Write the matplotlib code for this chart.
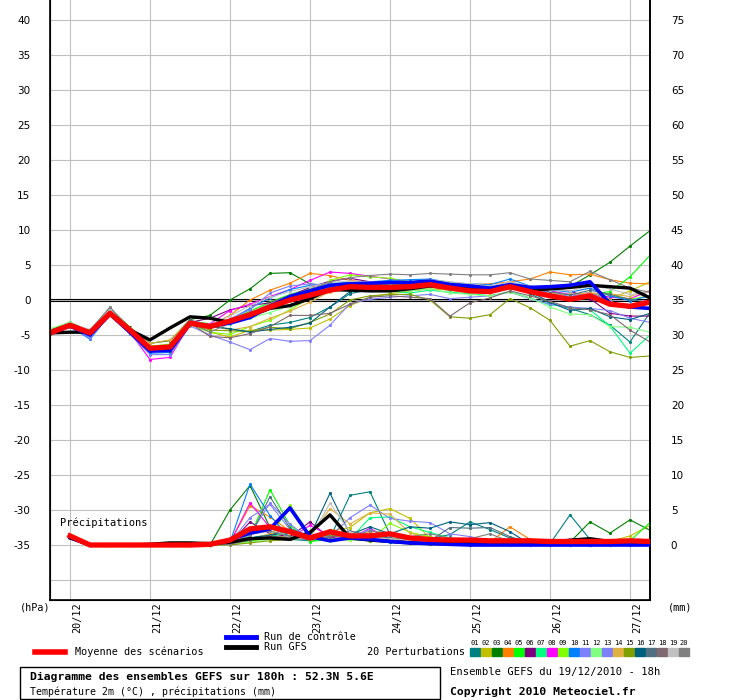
import numpy as np
import matplotlib
matplotlib.use("Agg")
import matplotlib.pyplot as plt

# time axis: 19/12 18h run, every 6h up to 180h
hours = np.arange(0, 181, 6)
precip_hours = hours[1:]

day_labels = ["20/12", "21/12", "22/12", "23/12", "24/12", "25/12", "26/12", "27/12"]
day_hours = [6, 30, 54, 78, 102, 126, 150, 174]

member_colors = ["#008080", "#c0c000", "#008000", "#ff8000", "#00ff00", "#800080", "#00ff80",
                 "#ff00ff", "#80ff00", "#0080ff", "#8080ff", "#80ff80", "#7f7ff8", "#e0b040",
                 "#80a000", "#006080", "#507080", "#806870", "#c0c0c0", "#808080"]

# 2m temperature (°C), 20 perturbations
t_members = [
    [-4.4, -3.5, -5.0, -1.8, -4.6, -7.4, -7.0, -2.9, -3.6, -4.2, -4.5, -3.6, -3.2, -2.5, -1.0, 0.9, 1.5, 1.8, 2.0, 2.4, 1.9, 1.3, 1.2, 2.2, 0.9, -0.5, -1.2, -2.1, -3.6, -6.0, -1.8],
    [-4.8, -3.7, -4.6, -1.6, -4.2, -6.8, -6.4, -3.4, -4.6, -5.3, -4.3, -4.3, -4.2, -4.0, -2.7, -0.8, 0.4, 0.9, 1.3, 1.6, 1.4, 1.1, 1.0, 1.6, 1.2, 0.7, 0.4, 1.0, 0.2, 1.3, 2.6],
    [-4.3, -3.2, -4.4, -1.2, -3.9, -6.2, -5.8, -2.8, -2.2, 0.0, 1.6, 3.8, 3.9, 2.3, 2.0, 2.1, 2.3, 2.2, 2.2, 2.6, 2.1, 1.8, 1.6, 2.1, 1.8, 1.8, 1.9, 3.6, 5.4, 7.7, 9.9],
    [-4.7, -3.6, -4.8, -1.9, -4.3, -6.9, -6.6, -3.1, -3.6, -2.2, 0.0, 1.4, 2.4, 3.8, 3.5, 2.8, 2.5, 2.4, 2.4, 2.7, 2.4, 2.2, 2.3, 2.6, 3.0, 4.0, 3.6, 3.7, 2.9, 2.4, 2.3],
    [-4.6, -3.4, -4.6, -1.7, -4.2, -6.7, -6.5, -3.0, -3.4, -2.9, -1.6, -0.3, 0.8, 1.6, 2.2, 2.4, 2.3, 2.2, 2.1, 2.5, 1.8, 1.4, 1.2, 2.0, 1.2, 0.6, 0.0, 0.8, 1.2, 3.3, 6.4],
    [-4.5, -3.7, -4.5, -1.9, -4.4, -7.0, -6.9, -3.2, -2.6, -1.4, -0.8, -0.4, 0.6, 1.8, 2.7, 3.1, 2.6, 2.4, 2.2, 2.3, 2.0, 1.6, 1.5, 2.1, 1.8, 1.6, 1.3, 0.2, -1.9, -2.3, -2.3],
    [-4.7, -3.5, -4.7, -1.8, -4.5, -7.1, -6.8, -3.3, -4.0, -3.4, -2.2, -1.1, -0.1, 0.9, 1.6, 1.8, 1.6, 1.3, 1.0, 1.4, 1.1, 0.9, 0.6, 1.2, 0.3, -0.7, -1.0, -1.4, -3.7, -7.6, -5.0],
    [-4.3, -3.6, -4.9, -2.0, -4.6, -8.5, -8.2, -3.4, -3.4, -1.5, -0.6, 0.5, 1.5, 2.8, 4.0, 3.8, 3.4, 3.0, 2.6, 2.8, 2.1, 1.9, 1.8, 2.1, 1.6, 1.3, 0.8, 1.0, 0.4, 0.2, 1.3],
    [-4.8, -3.3, -4.5, -1.5, -4.0, -6.6, -6.3, -3.5, -4.6, -4.9, -3.8, -2.9, -1.4, 0.3, 2.8, 3.6, 3.3, 3.1, 2.6, 2.8, 2.5, 2.2, 1.9, 2.3, 1.5, 0.7, 0.3, 0.9, 0.7, 0.1, 0.6],
    [-4.9, -3.8, -5.6, -2.1, -4.8, -7.6, -7.5, -3.2, -3.9, -2.8, -1.2, 0.3, 1.5, 2.1, 2.4, 2.5, 2.6, 2.8, 2.9, 3.0, 2.5, 2.3, 2.2, 3.0, 2.0, 1.5, 1.1, 1.7, 0.6, -0.1, 0.6],
    [-4.8, -3.9, -5.4, -2.2, -4.9, -7.8, -7.8, -3.7, -5.0, -6.0, -7.1, -5.5, -5.9, -5.8, -3.6, -0.5, 0.1, 0.4, 0.6, 0.8, 0.2, 0.4, 0.6, 1.1, 0.2, -0.6, -1.0, -1.2, -1.5, -2.6, -3.2],
    [-4.1, -3.2, -4.5, -1.6, -4.1, -6.6, -6.7, -3.3, -3.7, -3.3, -2.6, -1.8, -0.8, 0.4, 1.3, 1.6, 1.5, 1.4, 1.3, 1.6, 1.0, 0.8, 0.6, 1.1, 0.3, -1.0, -2.0, -2.1, -3.8, -3.9, -4.6],
    [-4.6, -3.7, -4.8, -2.0, -4.3, -7.2, -7.1, -3.3, -3.9, -2.7, -1.4, 1.0, 2.0, 2.3, 2.1, 2.0, 2.2, 2.1, 2.0, 2.4, 1.7, 1.5, 1.4, 2.4, 1.5, 1.1, 0.5, 1.1, -0.2, -0.9, 0.0],
    [-4.5, -3.5, -4.7, -1.9, -4.2, -6.2, -5.7, -3.0, -3.6, -4.3, -3.8, -2.6, -1.6, -0.3, 1.2, 1.9, 2.2, 2.3, 2.4, 2.6, 2.2, 1.7, 1.6, 2.4, 1.4, 0.9, 0.8, 1.0, 0.9, 0.5, 1.4],
    [-4.9, -3.8, -4.7, -1.9, -4.4, -7.1, -6.9, -3.5, -4.3, -4.4, -4.5, -3.9, -4.1, -3.2, -2.0, 0.0, 0.6, 0.8, 0.8, 0.0, -2.4, -2.6, -2.1, 0.2, -1.1, -2.9, -6.6, -5.8, -7.4, -8.2, -8.0],
    [-4.6, -3.6, -4.8, -2.1, -4.6, -7.3, -7.3, -3.1, -3.8, -4.1, -4.6, -4.2, -3.9, -3.3, -1.0, 1.2, 1.6, 1.8, 1.9, 2.3, 1.9, 1.5, 1.3, 1.8, 1.2, -0.3, -1.5, -1.2, -2.4, -2.8, -1.9],
    [-4.5, -3.5, -4.6, -2.0, -4.4, -7.0, -6.6, -2.9, -3.7, -2.9, -1.8, -0.9, 0.1, 1.0, 1.8, 2.1, 2.2, 2.3, 2.3, 2.4, 2.0, 1.7, 1.5, 2.1, 1.6, 1.2, 0.7, 1.4, 0.8, 0.1, -0.4],
    [-4.4, -3.7, -4.6, -1.9, -4.3, -6.9, -6.9, -3.3, -5.2, -5.4, -4.8, -3.8, -2.2, -2.2, -1.9, -0.6, 0.4, 0.6, 0.4, 0.2, -2.3, -0.4, 0.3, 1.3, 0.6, -0.2, -1.1, -1.4, -2.1, -4.3, -6.0],
    [-4.6, -3.4, -4.2, -1.3, -4.0, -6.8, -6.6, -3.1, -3.5, -2.3, -0.8, 0.4, 1.2, 1.9, 2.5, 2.7, 2.6, 2.5, 2.5, 2.9, 2.6, 2.3, 2.0, 2.6, 2.0, 1.5, 1.3, 2.0, 1.6, 0.8, 1.1],
    [-4.5, -3.9, -4.3, -1.0, -4.3, -6.8, -6.8, -3.3, -4.6, -3.3, -1.9, -0.5, 0.7, 1.5, 2.6, 3.2, 3.5, 3.7, 3.6, 3.8, 3.7, 3.6, 3.6, 3.9, 3.0, 2.8, 2.6, 4.1, 2.9, 1.7, 1.1],
]
t_control = [-4.8, -3.7, -5.0, -2.0, -4.6, -7.3, -7.2, -3.4, -3.7, -3.3, -2.5, -0.9, 0.5, 1.3, 2.1, 2.3, 2.4, 2.5, 2.5, 2.7, 2.2, 2.0, 1.7, 2.2, 1.8, 1.9, 2.1, 2.6, -0.5, -1.0, -1.2]
t_gfs = [-4.7, -4.6, -4.6, -1.9, -4.3, -5.7, -4.0, -2.4, -2.6, -3.2, -2.3, -1.2, -0.8, 0.2, 1.5, 1.4, 1.3, 1.3, 1.6, 2.0, 1.7, 1.6, 1.4, 1.8, 1.4, 1.6, 1.8, 2.1, 1.9, 1.7, 0.3]
t_mean = [-4.7, -3.6, -4.7, -1.9, -4.3, -6.9, -6.7, -3.3, -3.8, -3.0, -2.1, -1.0, 0.0, 0.7, 1.4, 1.9, 1.8, 1.8, 1.9, 2.2, 1.7, 1.3, 1.2, 1.9, 1.2, 0.6, 0.1, 0.6, -0.6, -0.9, -0.3]

# 6h precipitation (mm), from +6h
p_members = [
    [1.2, 0, 0, 0, 0, 0, 0, 0, 0.3, 1.0, 1.5, 0.8, 0.6, 1.0, 7.1, 7.6, 1.5, 1.2, 0.9, 1.5, 3.3, 2.2, 1.0, 0.5, 0.2, 4.3, 0.8, 0.2, 0.4, 0.5],
    [1.0, 0, 0, 0, 0, 0, 0, 0, 0.2, 0.6, 1.0, 1.4, 1.0, 2.0, 2.5, 4.6, 5.2, 3.8, 1.0, 0.6, 0.4, 0.3, 0.2, 0.4, 0.1, 0.1, 0.2, 0.5, 1.3, 2.8],
    [1.1, 0, 0, 0, 0, 0, 0, 0, 5.0, 8.5, 2.5, 1.2, 1.0, 2.1, 1.4, 0.7, 0.4, 0.3, 0.2, 0.1, 0.2, 0.1, 0.2, 0.1, 0.2, 0.4, 3.3, 1.7, 3.6, 2.1],
    [1.2, 0, 0, 0, 0, 0, 0, 0, 0.4, 5.6, 4.0, 2.0, 0.6, 1.5, 0.8, 1.8, 1.0, 0.5, 0.3, 0.2, 0.2, 0.4, 2.6, 0.8, 0.1, 0.0, 0.1, 0.0, 0.1, 0.2],
    [1.1, 0, 0, 0, 0, 0, 0, 0, 0.3, 1.2, 7.9, 2.8, 0.5, 0.8, 1.0, 0.6, 0.4, 0.3, 0.2, 0.1, 0.0, 0.1, 0.0, 0.1, 0.0, 0.0, 0.1, 0.0, 0.6, 3.2],
    [1.2, 0, 0, 0, 0, 0, 0, 0, 0.2, 3.3, 1.6, 1.2, 3.3, 1.0, 1.5, 1.4, 0.6, 0.3, 0.2, 0.1, 0.0, 0.1, 0.0, 0.0, 0.0, 0.1, 0.3, 0.2, 0.3, 0.1],
    [1.0, 0, 0, 0, 0, 0, 0, 0, 0.1, 0.6, 1.2, 1.8, 0.9, 1.5, 0.8, 3.9, 4.0, 2.6, 1.8, 1.0, 0.4, 0.2, 0.1, 0.0, 0.1, 0.0, 0.0, 0.0, 0.1, 0.2],
    [1.3, 0, 0, 0, 0, 0, 0, 0, 0.3, 6.0, 2.5, 1.0, 2.8, 1.3, 0.9, 2.4, 0.8, 0.4, 0.2, 0.1, 0.0, 0.1, 0.0, 0.0, 0.0, 0.1, 0.0, 0.0, 0.1, 0.0],
    [1.1, 0, 0, 0, 0, 0, 0, 0, 0.1, 0.5, 1.0, 5.7, 1.5, 0.9, 0.7, 0.8, 3.1, 1.8, 1.2, 0.5, 0.2, 0.1, 0.0, 0.1, 0.0, 0.0, 0.1, 0.0, 0.3, 0.2],
    [1.2, 0, 0, 0, 0, 0, 0, 0, 0.4, 8.7, 4.2, 1.0, 0.8, 1.2, 1.6, 1.0, 0.5, 0.3, 0.2, 0.1, 0.1, 0.5, 0.2, 0.1, 0.1, 0.0, 0.0, 0.0, 0.0, 0.1],
    [1.0, 0, 0, 0, 0, 0, 0, 0, 0.2, 1.5, 6.0, 3.0, 0.8, 1.2, 3.9, 5.7, 3.8, 3.4, 3.2, 1.6, 1.2, 0.6, 0.3, 0.1, 0.0, 0.0, 0.0, 0.0, 0.1, 0.0],
    [1.1, 0, 0, 0, 0, 0, 0, 0, 0.1, 0.4, 0.8, 1.2, 1.0, 0.6, 0.9, 1.3, 0.9, 0.7, 0.5, 0.4, 0.3, 0.2, 0.1, 0.0, 0.0, 0.0, 0.1, 0.0, 0.1, 0.3],
    [1.2, 0, 0, 0, 0, 0, 0, 0, 0.3, 3.9, 5.8, 2.2, 1.4, 1.9, 1.2, 2.2, 1.0, 0.8, 0.6, 0.3, 0.2, 0.2, 0.1, 0.0, 0.1, 0.0, 0.0, 0.1, 0.0, 0.1],
    [1.1, 0, 0, 0, 0, 0, 0, 0, 0.2, 0.8, 1.6, 2.0, 1.2, 5.2, 3.0, 4.6, 4.4, 1.7, 1.0, 0.5, 0.3, 0.2, 0.1, 0.1, 0.0, 0.0, 0.1, 0.0, 0.2, 0.1],
    [1.0, 0, 0, 0, 0, 0, 0, 0, 0.0, 0.3, 0.6, 0.8, 1.1, 1.4, 1.0, 0.6, 0.8, 0.4, 0.2, 0.1, 0.0, 0.1, 0.0, 0.0, 0.0, 0.0, 0.0, 0.0, 0.0, 0.0],
    [1.3, 0, 0, 0, 0, 0, 0, 0, 0.2, 1.0, 1.4, 2.2, 1.3, 7.4, 1.5, 2.6, 1.6, 2.6, 2.4, 3.3, 2.9, 3.2, 1.9, 0.1, 0.0, 0.0, 0.0, 0.1, 0.0, 0.0],
    [1.2, 0, 0, 0, 0, 0, 0, 0, 0.2, 1.2, 6.9, 2.4, 1.0, 1.1, 2.0, 1.4, 1.0, 0.8, 0.6, 2.5, 2.4, 2.5, 1.2, 0.3, 0.1, 0.0, 0.1, 0.0, 0.2, 0.0],
    [1.1, 0, 0, 0, 0, 0, 0, 0, 0.1, 0.7, 1.3, 1.0, 0.8, 1.1, 1.7, 0.9, 0.6, 0.4, 0.3, 0.5, 0.6, 0.4, 0.5, 0.2, 0.0, 0.4, 0.1, 0.2, 0.1, 0.1],
    [1.2, 0, 0, 0, 0, 0, 0, 0, 0.3, 1.8, 2.5, 1.0, 0.9, 6.0, 1.8, 1.0, 0.9, 0.7, 0.4, 0.2, 0.2, 0.1, 0.0, 0.1, 0.0, 0.0, 0.1, 0.0, 0.0, 0.2],
    [1.3, 0, 0, 0, 0, 0, 0, 0, 0.2, 1.5, 2.0, 1.2, 0.8, 1.6, 1.1, 2.0, 1.7, 1.2, 1.6, 1.0, 0.9, 1.6, 0.5, 0.2, 0.0, 0.1, 0.2, 0.1, 0.0, 0.1],
]
p_control = [1.1, 0, 0, 0, 0, 0, 0, 0, 0.8, 1.7, 2.3, 5.3, 1.2, 0.6, 1.0, 0.8, 0.5, 0.3, 0.2, 0.1, 0.0, 0.0, 0.0, 0.0, 0.0, 0.0, 0.0, 0.0, 0.0, 0.0]
p_gfs = [1.0, 0, 0, 0, 0.1, 0.3, 0.3, 0.2, 0.4, 0.9, 1.0, 0.8, 1.8, 4.3, 1.0, 0.7, 0.5, 0.3, 0.2, 0.2, 0.2, 0.1, 0.1, 0.1, 0.3, 0.7, 0.9, 0.5, 0.3, 0.1]
p_mean = [1.3, 0, 0, 0, 0, 0, 0, 0.1, 0.7, 2.3, 2.6, 1.9, 1.0, 1.9, 1.3, 1.3, 1.6, 1.0, 0.8, 0.7, 0.7, 0.6, 0.6, 0.6, 0.5, 0.5, 0.5, 0.5, 0.6, 0.5]

W, H = 740, 700
mono = "DejaVu Sans Mono"


def fx(x):
    return x / W


def fy(y):
    return 1 - y / H


fig = plt.figure(figsize=(7.4, 7.0), dpi=100)
ax = fig.add_axes([fx(50), fy(600), fx(600), 600 / H])
ylim = (-300 / 7, 300 / 7)
ax.set_xlim(0, 180)
ax.set_ylim(*ylim)

for y in range(-40, 41, 5):
    ax.axhline(y, color="#c0c0c0", lw=0.8, zorder=0)
for h in day_hours:
    ax.axvline(h, color="#c0c0c0", lw=0.8, zorder=0)
ax.axhline(0.17, color="black", lw=0.8, zorder=1)
ax.axhline(-0.17, color="black", lw=0.8, zorder=1)

ax.set_yticks(range(-35, 41, 5))
ax.set_yticklabels([str(v) for v in range(-35, 41, 5)], fontsize=7.5)
ax.tick_params(axis="y", length=0, pad=14)
ax.set_xticks(day_hours)
ax.set_xticklabels([])
ax.tick_params(axis="x", length=0)
ax.spines["top"].set_visible(False)
for s in ["left", "right", "bottom"]:
    ax.spines[s].set_linewidth(1.2)

ax2 = ax.twinx()
ax2.set_ylim(ylim[0] + 35, ylim[1] + 35)
ax2.set_yticks(range(0, 76, 5))
ax2.set_yticklabels([str(v) for v in range(0, 76, 5)], fontsize=7.5)
ax2.tick_params(axis="y", length=0, pad=15)
ax2.spines["top"].set_visible(False)
ax2.spines["right"].set_linewidth(1.2)

for vals, col in zip(t_members, member_colors):
    ax.plot(hours, vals, color=col, lw=0.8, marker=".", ms=2.5, zorder=2)
ax.plot(hours, t_gfs, color="black", lw=2.4, zorder=3)
ax.plot(hours, t_control, color="#0000ff", lw=2.6, zorder=3)
ax.plot(hours, t_mean, color="#ff0000", lw=3.8, zorder=4)

for vals, col in zip(p_members, member_colors):
    ax2.plot(precip_hours, vals, color=col, lw=0.8, marker=".", ms=2.5, zorder=2)
ax2.plot(precip_hours, p_gfs, color="black", lw=2.4, zorder=3)
ax2.plot(precip_hours, p_control, color="#0000ff", lw=2.6, zorder=3)
ax2.plot(precip_hours, p_mean, color="#ff0000", lw=3.8, zorder=4)

ax.text(fx(60), fy(523), "Précipitations", transform=fig.transFigure, fontsize=7.5,
        family=mono, va="center", ha="left", zorder=5)

# date labels under the axis
for h, lab in zip(day_hours, day_labels):
    x_px = 50 + h * 600 / 180 + 7
    fig.text(fx(x_px), fy(602), lab, rotation=90, family=mono, fontsize=7.3,
             ha="center", va="top")
fig.text(fx(20), fy(607), "(hPa)", family=mono, fontsize=7.3, va="center")
fig.text(fx(668), fy(607), "(mm)", family=mono, fontsize=7.3, va="center")

# legend
fig.add_artist(plt.Line2D([fx(35), fx(65)], [fy(652), fy(652)], color="#ff0000", lw=4))
fig.text(fx(75), fy(652), "Moyenne des scénarios", family=mono, fontsize=7.3, va="center")
fig.add_artist(plt.Line2D([fx(226), fx(256)], [fy(637), fy(637)], color="#0000ff", lw=3.5))
fig.text(fx(264), fy(637), "Run de contrôle", family=mono, fontsize=7.3, va="center")
fig.add_artist(plt.Line2D([fx(226), fx(256)], [fy(647), fy(647)], color="black", lw=3.5))
fig.text(fx(264), fy(647), "Run GFS", family=mono, fontsize=7.3, va="center")
fig.text(fx(465), fy(652), "20 Perturbations", family=mono, fontsize=7.3, va="center", ha="right")
for k, col in enumerate(member_colors):
    x0 = 470 + 11 * k
    fig.add_artist(plt.Rectangle((fx(x0), fy(656)), 10 / W, 8 / H, color=col,
                                 transform=fig.transFigure))
    fig.text(fx(x0 + 5), fy(643), "%02d" % (k + 1), family=mono, fontsize=5,
             ha="center", va="center")

# title box
fig.add_artist(plt.Rectangle((fx(20), fy(699)), 420 / W, 32 / H, fill=False, ec="black",
                             lw=1, transform=fig.transFigure))
fig.text(fx(30), fy(677), "Diagramme des ensembles GEFS sur 180h : 52.3N 5.6E", family=mono,
         fontsize=8.2, weight="bold", va="center")
fig.text(fx(30), fy(692), "Température 2m (°C) , précipitations (mm)", family=mono,
         fontsize=7.1, va="center")
fig.text(fx(450), fy(672), "Ensemble GEFS du 19/12/2010 - 18h", family=mono, fontsize=7.6,
         va="center")
fig.text(fx(450), fy(692), "Copyright 2010 Meteociel.fr", family=mono, fontsize=8.2,
         weight="bold", va="center")

fig.savefig("out.png", dpi=100)
